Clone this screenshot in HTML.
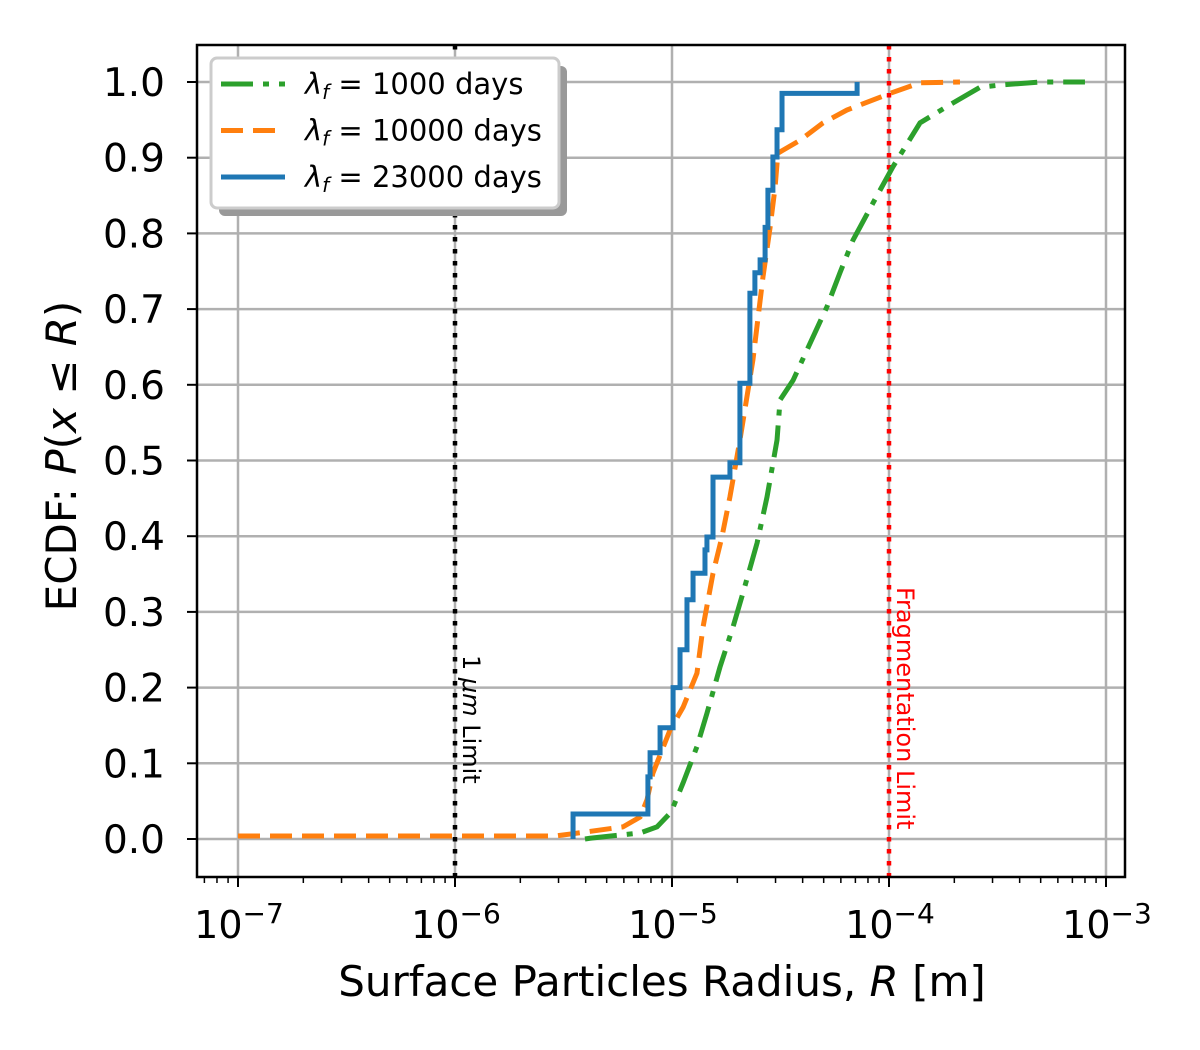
<!DOCTYPE html>
<html><head><meta charset="utf-8"><style>
body{margin:0;background:#fff}
svg{display:block;font-family:"DejaVu Sans","Liberation Sans",sans-serif}
</style></head><body>
<svg id="c" width="1200" height="1050" viewBox="0 0 1200 1050" xmlns="http://www.w3.org/2000/svg"></svg>
<script>
// log10(R) and ECDF values
const blueX=[-5.456,-5.111,-5.101,-5.055,-4.995,-4.963,-4.931,-4.903,-4.848,-4.839,-4.811,-4.733,-4.687,-4.641,-4.618,-4.594,-4.571,-4.558,-4.535,-4.516,-4.493,-4.147];
const blueY=[0.033,0.082,0.114,0.147,0.200,0.250,0.316,0.351,0.382,0.399,0.478,0.497,0.602,0.721,0.748,0.765,0.808,0.857,0.901,0.937,0.985,1.0];
const orangeX=[-7,-5.539,-5.456,-5.226,-5.147,-5.115,-5.088,-5.009,-4.949,-4.885,-4.857,-4.811,-4.770,-4.733,-4.687,-4.627,-4.581,-4.548,-4.525,-4.512,-4.488,-4.410,-4.304,-4.194,-3.995,-3.857,-3.673];
const orangeY=[0.004,0.004,0.007,0.016,0.029,0.052,0.087,0.144,0.174,0.219,0.280,0.351,0.399,0.452,0.527,0.633,0.742,0.808,0.861,0.906,0.910,0.923,0.946,0.963,0.985,0.999,1.0];
const greenX=[-5.401,-5.378,-5.147,-5.069,-5.009,-4.995,-4.949,-4.885,-4.839,-4.779,-4.719,-4.673,-4.608,-4.562,-4.516,-4.502,-4.442,-4.378,-4.286,-4.226,-4.166,-4.074,-3.982,-3.857,-3.719,-3.581,-3.488,-3.304,-3.097];
const greenY=[0,0.001,0.008,0.016,0.034,0.042,0.074,0.122,0.166,0.227,0.280,0.325,0.391,0.452,0.527,0.580,0.606,0.646,0.703,0.748,0.791,0.840,0.888,0.946,0.970,0.993,0.996,1.0,1.0];
const yTicks=[0,0.1,0.2,0.3,0.4,0.5,0.6,0.7,0.8,0.9,1.0];
const xTicks=[-7,-6,-5,-4,-3];
const xTickLabels=["−7","−6","−5","−4","−3"];
const vLines=[-6,-4];

const L=197,R=1125,T=45,B=877;
const sx=v=>238+(v+7)*217;
const sy=v=>839-v*757;
const svg=document.getElementById('c');
const NS='http://www.w3.org/2000/svg';
function mk(tag,attrs,parent){const e=document.createElementNS(NS,tag);for(const k in attrs)e.setAttribute(k,attrs[k]);(parent||svg).appendChild(e);return e;}
const GREEN_DASH='32 10 6 10', ORANGE_DASH='22 10';

// grid
yTicks.forEach(v=>{const g=mk('line',{x1:L,x2:R,y1:sy(v),y2:sy(v),stroke:'#b0b0b0','stroke-width':2.5});

});
xTicks.forEach(v=>{const g=mk('line',{x1:sx(v),x2:sx(v),y1:T,y2:B,stroke:'#b0b0b0','stroke-width':2.5});

});

// vertical limit lines
const v1=mk('line',{x1:sx(vLines[0]),x2:sx(vLines[0]),y1:T,y2:B,stroke:'#000','stroke-width':4.5,'stroke-dasharray':'4.5 7.5'});


const v2=mk('line',{x1:sx(vLines[1]),x2:sx(vLines[1]),y1:T,y2:B,stroke:'#ff0000','stroke-width':4.5,'stroke-dasharray':'4.5 7.5'});


let t=mk('text',{x:0,y:0,transform:`translate(${sx(vLines[0])+8},655) rotate(90)`,'font-size':24,fill:'#000'});
t.innerHTML='1 <tspan font-style="italic">μm</tspan> Limit';


t=mk('text',{x:0,y:0,transform:`translate(${sx(vLines[1])+8},587) rotate(90)`,'font-size':24,fill:'#ff0000'});
t.textContent='Fragmentation Limit';



// series
function ptsLine(xs,ys){return xs.map((x,i)=>sx(x)+','+sy(ys[i])).join(' ');}
let p=mk('polyline',{points:ptsLine(greenX,greenY),fill:'none',stroke:'#2ca02c','stroke-width':5,'stroke-dasharray':GREEN_DASH});


p=mk('polyline',{points:ptsLine(orangeX,orangeY),fill:'none',stroke:'#ff7f0e','stroke-width':5,'stroke-dasharray':ORANGE_DASH});


let d=`M${sx(blueX[0])},${sy(0)}`;
blueX.forEach((x,i)=>{d+=` H${sx(x)} V${sy(blueY[i])}`;});
p=mk('path',{d:d,fill:'none',stroke:'#1f77b4','stroke-width':5});



// axes frame
const fr=mk('rect',{x:L,y:T,width:R-L,height:B-T,fill:'none',stroke:'#000','stroke-width':2.5});



// y ticks
yTicks.forEach(v=>{mk('line',{x1:L-10,x2:L,y1:sy(v),y2:sy(v),stroke:'#000','stroke-width':2});
const tl=mk('text',{x:L-32,y:sy(v)+14,'font-size':39,'text-anchor':'end',fill:'#000'});tl.textContent=v.toFixed(1);

});
// x ticks
xTicks.forEach((v,i)=>{mk('line',{x1:sx(v),x2:sx(v),y1:B,y2:B+10,stroke:'#000','stroke-width':2});
const tl=mk('text',{x:sx(v)+1,y:B+61,'font-size':38,'text-anchor':'middle',fill:'#000'});
tl.innerHTML='10<tspan dy="-15" font-size="28">'+xTickLabels[i]+'</tspan>';

});
for(let dec=-8;dec<-2;dec++){for(let m=2;m<10;m++){const v=dec+Math.log10(m);const x=sx(v);if(x>L&&x<R)mk('line',{x1:x,x2:x,y1:B,y2:B+6,stroke:'#000','stroke-width':1.5});}}

// axis titles
t=mk('text',{x:662,y:996,'font-size':42,'text-anchor':'middle',fill:'#000'});
t.innerHTML='Surface Particles Radius, <tspan font-style="italic">R</tspan> [m]';


t=mk('text',{x:0,y:0,transform:'translate(76,456) rotate(-90)','font-size':42,'text-anchor':'middle',fill:'#000'});
t.innerHTML='ECDF: <tspan font-style="italic">P</tspan>(<tspan font-style="italic">x</tspan> ≤ <tspan font-style="italic">R</tspan>)';



// legend
const lg=mk('g',{});


mk('rect',{x:219,y:66,width:348,height:150,rx:6,fill:'#999'},lg);
mk('rect',{x:211,y:58,width:348,height:150,rx:6,fill:'#fff',stroke:'#ccc','stroke-width':3},lg);
const leg=[['#2ca02c',GREEN_DASH,'1000'],['#ff7f0e',ORANGE_DASH,'10000'],['#1f77b4','','23000']];
leg.forEach((e,i)=>{const y=84+i*46.5;
const ln=mk('line',{x1:221,x2:285,y1:y,y2:y,stroke:e[0],'stroke-width':5,'stroke-dasharray':e[1]},lg);


const tx=mk('text',{x:305,y:y+10,'font-size':29,fill:'#000'},lg);
tx.innerHTML='<tspan font-style="italic">λ</tspan><tspan font-style="italic" font-size="20" dy="5">f</tspan><tspan dy="-5"> = '+e[2]+' days</tspan>';

});
</script>
</body></html>
